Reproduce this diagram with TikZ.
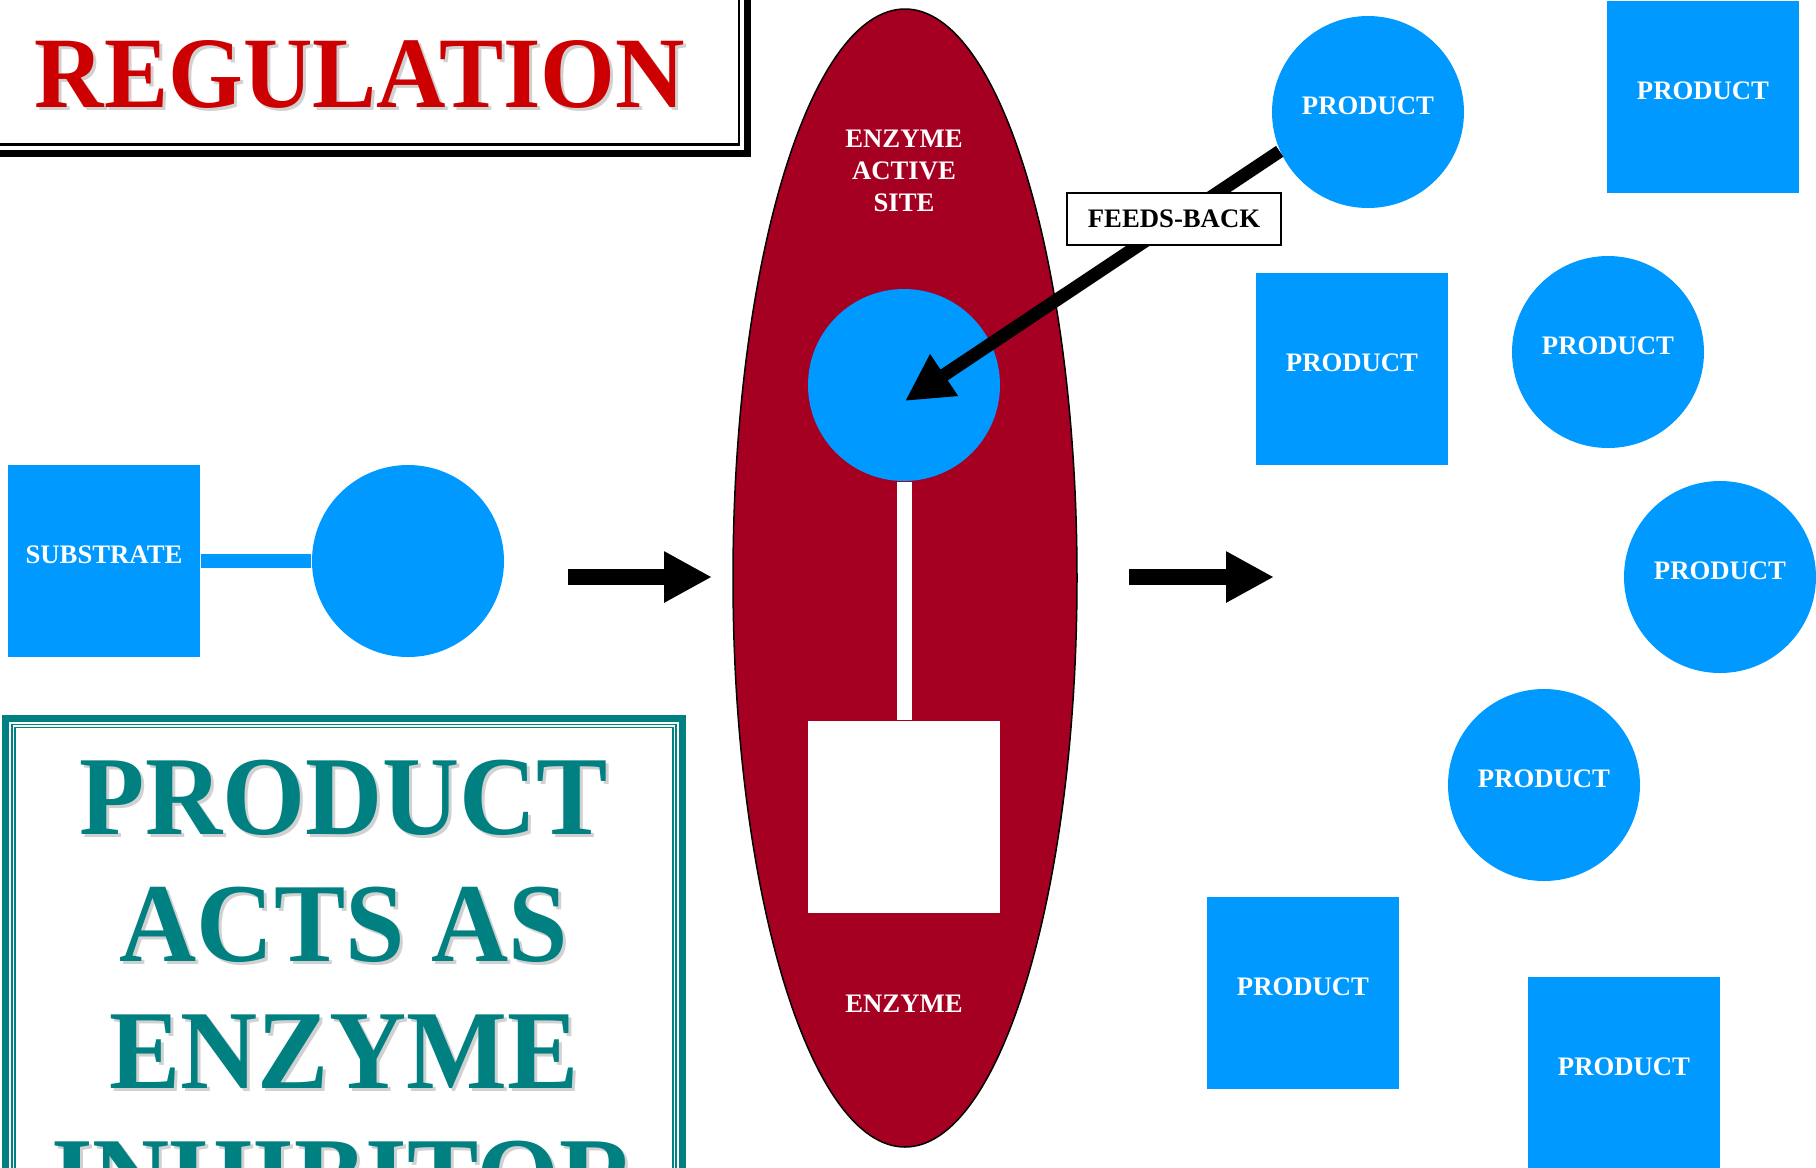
\documentclass[tikz,border=0pt]{standalone}
\usepackage{fontspec}
\setmainfont{Liberation Serif}
\newfontfamily\narrowserif{Liberation Serif}[FakeStretch=0.95]
\usetikzlibrary{arrows.meta,shapes.geometric}
\definecolor{prodblue}{RGB}{0,153,255}
\definecolor{enzred}{RGB}{165,0,33}
\definecolor{titlered}{RGB}{204,0,0}
\definecolor{inhteal}{RGB}{0,128,128}

\begin{document}
\begin{tikzpicture}[x=0.1mm, y=-0.1mm,
    small/.style={font=\fontsize{7.6}{9.1}\selectfont\bfseries, inner sep=0pt},
    lbl/.style={small, text=white, align=center},
    prod/.style={small, fill=prodblue, text=white, minimum size=19.2mm, text depth=1.2mm},
    pcirc/.style={prod, circle},
    psq/.style={prod, rectangle},
    headline/.style={font=\narrowserif\fontsize{28.8}{33}\selectfont\bfseries, inner sep=0pt},
    inhword/.style={font=\narrowserif\fontsize{32}{36}\selectfont\bfseries, inner sep=0pt, text=inhteal},
    fat/.style={line width=1.6mm, -{Triangle[length=4.8mm, width=4.8mm]}}]
    \useasboundingbox (0,0) rectangle (1816,1167);
    \clip (0,0) rectangle (1816,1167);

    \draw[line width=0.65mm] (-20,-20) rectangle (747.5,153.5);
    \draw[line width=0.25mm] (-20,-20) rectangle (739,144.5);
    \node[headline, text=black!18] (titles) at (363,77) {REGULATION};
    \node[headline, text=titlered] (title) at (360,74) {REGULATION};

    \draw[inhteal, line width=0.7mm] (5.5,718.5) rectangle (682.5,1250);
    \draw[inhteal, line width=0.15mm, double=white, double distance=0.15mm] (13.5,726) rectangle (674.5,1250);
    \foreach \w [count=\i from 0] in {PRODUCT,ACTS AS,ENZYME,INHIBITOR} {
        \node[inhword, text=black!18] (ws\i) at (347,801+127*\i) {\w};
        \node[inhword] (w\i) at (344,798+127*\i) {\w};
    }

    \node[psq] (sub) at (104,561) {SUBSTRATE};
    \node[pcirc] (subc) at (408,561) {};
    \draw[prodblue, line width=1.4mm] (sub) -- (subc);

    \coordinate (in1) at (568,577);
    \coordinate (in2) at (712,577);
    \draw[fat] (in1) -- (in2);

    \node[ellipse, draw, line width=0.15mm, fill=enzred, minimum width=34.4mm, minimum height=113.8mm, inner sep=0pt] (enz) at (905,578) {};
    \node[pcirc] (site) at (904,385) {};
    \node[fill=white, minimum size=19.2mm, inner sep=0pt] (base) at (904,817) {};
    \draw[white, line width=1.5mm] (site) -- (base);
    \node[lbl] (sitetxt) at (904,171) {ENZYME\\ACTIVE\\SITE};
    \node[lbl] (enztxt) at (904,1004) {ENZYME};

    \coordinate (out1) at (1129,577);
    \coordinate (out2) at (1274,577);
    \draw[fat] (out1) -- (out2);

    \foreach \s/\x/\y [count=\i] in {pcirc/1368/112, psq/1703/97, psq/1352/369, pcirc/1608/352,
        pcirc/1720/577, pcirc/1544/785, psq/1303/993, psq/1624/1073}
        \node[\s] (p\i) at (\x,\y) {PRODUCT};

    \coordinate (fbtip) at (905,401);
    \draw[line width=1.3mm, -{Triangle[length=4.7mm, width=4.7mm]}] (p1.204) -- (fbtip);
    \node[small, draw, fill=white, line width=0.17mm, minimum width=21.4mm, minimum height=5.2mm] (fb) at (1174,219) {FEEDS-BACK};
\end{tikzpicture}
\end{document}
